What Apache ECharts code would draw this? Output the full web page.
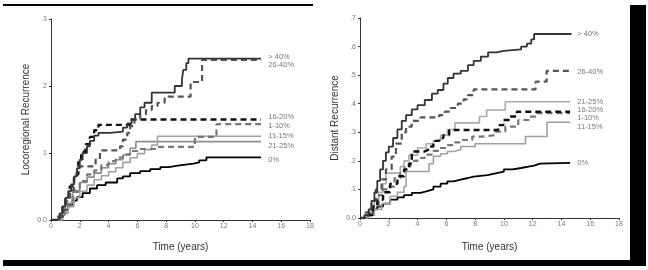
<!DOCTYPE html>
<html><head><meta charset="utf-8">
<script src="https://cdn.jsdelivr.net/npm/echarts@6/dist/echarts.min.js"></script>
<style>html,body{margin:0;padding:0;background:#fff}#c{width:648px;height:270px}</style>
</head><body><div id="c"></div>
<script>
// ---------- DATA ----------
var groupNames = ['> 40%','26-40%','16-20%','1-10%','11-15%','21-25%','0%'];
var xTicks = [0,2,4,6,8,10,12,14,16,18];

// Locoregional recurrence (left panel) [time, value]
var locoGt40 = [[0,0],[0.4,0.02],[0.6,0.1],[0.8,0.2],[1.0,0.33],[1.2,0.43],[1.4,0.53],[1.6,0.65],[1.8,0.77],[2.0,0.9],[2.2,1.0],[2.5,1.1],[2.7,1.18],[3.0,1.26],[3.3,1.3],[4.1,1.32],[5.0,1.38],[5.3,1.44],[5.6,1.5],[5.85,1.58],[6.2,1.68],[6.5,1.75],[7.0,1.9],[8.6,2.0],[9.1,2.1],[9.2,2.24],[9.4,2.34],[9.55,2.41],[14.6,2.41]];
var loco2640 = [[0,0],[0.5,0.05],[0.8,0.15],[1.0,0.28],[1.3,0.45],[1.6,0.62],[1.8,0.8],[2.9,0.8],[3.1,0.9],[3.4,1.04],[4.6,1.04],[4.8,1.1],[5.0,1.2],[5.3,1.3],[5.5,1.4],[5.8,1.5],[6.2,1.58],[6.6,1.64],[7.0,1.7],[7.4,1.75],[7.9,1.84],[9.7,2.06],[10.5,2.39],[14.6,2.39]];
var loco1620 = [[0,0],[0.5,0.05],[0.8,0.2],[1.0,0.35],[1.3,0.5],[1.6,0.68],[1.9,0.88],[2.1,1.02],[2.4,1.13],[2.7,1.24],[3.0,1.34],[3.3,1.42],[5.5,1.5],[14.6,1.5]];
var loco0110 = [[0,0],[0.6,0.05],[1.0,0.22],[1.5,0.42],[2.0,0.58],[2.5,0.68],[3.0,0.74],[3.5,0.82],[4.0,0.88],[4.5,0.93],[5.0,0.98],[5.5,1.03],[6.0,1.06],[7.3,1.09],[10.0,1.24],[11.5,1.43],[14.6,1.43]];
var loco1115 = [[0,0],[0.8,0.02],[0.9,0.1],[1.2,0.2],[1.6,0.33],[2.0,0.43],[2.5,0.52],[3.0,0.6],[3.5,0.66],[4.0,0.72],[4.5,0.78],[5.0,0.86],[5.5,0.93],[6.0,0.99],[6.5,1.05],[7.0,1.12],[7.4,1.25],[14.6,1.25]];
var loco2125 = [[0,0],[0.5,0.02],[0.7,0.1],[1.0,0.25],[1.5,0.44],[2.0,0.56],[2.5,0.64],[3.0,0.7],[3.5,0.78],[4.0,0.84],[4.5,0.9],[5.0,0.97],[5.5,1.07],[5.9,1.17],[14.6,1.17]];
var loco0 = [[0,0],[0.4,0.02],[0.6,0.07],[0.9,0.15],[1.2,0.23],[1.5,0.29],[1.8,0.34],[2.2,0.4],[2.7,0.47],[3.2,0.52],[3.8,0.56],[4.6,0.62],[5.0,0.65],[5.5,0.7],[6.2,0.73],[6.9,0.76],[7.6,0.79],[8.2,0.81],[8.8,0.83],[9.5,0.84],[9.9,0.86],[10.3,0.89],[10.8,0.935],[14.6,0.935]];
var locoLabelY = [2.43, 2.31, 1.54, 1.4, 1.25, 1.11, 0.9];
var locoYTicks = [0,1,2,3];

// Distant recurrence (right panel)
var distGt40 = [[0,0],[0.3,0.01],[0.6,0.03],[0.8,0.06],[1.0,0.09],[1.2,0.13],[1.4,0.17],[1.6,0.2],[1.8,0.23],[2.0,0.25],[2.3,0.28],[2.6,0.31],[2.9,0.34],[3.2,0.36],[3.6,0.38],[4.0,0.395],[4.5,0.413],[5.0,0.435],[5.4,0.448],[5.8,0.47],[6.1,0.49],[6.5,0.505],[7.0,0.515],[7.5,0.535],[7.9,0.55],[8.4,0.565],[8.9,0.58],[9.5,0.585],[10.0,0.59],[11.2,0.6],[11.6,0.61],[11.9,0.625],[12.1,0.644],[14.7,0.644]];
var dist2640 = [[0,0],[0.4,0.02],[0.8,0.06],[1.1,0.1],[1.5,0.135],[1.8,0.17],[2.2,0.215],[2.5,0.26],[2.9,0.3],[3.2,0.32],[3.6,0.34],[4.2,0.352],[5.5,0.36],[5.9,0.372],[6.3,0.385],[6.8,0.4],[7.2,0.415],[7.5,0.43],[7.9,0.45],[12.2,0.477],[12.97,0.515],[14.6,0.515]];
var dist2125 = [[0,0],[0.5,0.01],[0.8,0.03],[1.0,0.06],[1.3,0.09],[1.6,0.12],[1.8,0.157],[2.6,0.157],[2.8,0.18],[3.06,0.2],[3.4,0.22],[4.0,0.245],[4.6,0.26],[5.1,0.27],[5.6,0.29],[6.07,0.31],[6.6,0.333],[7.9,0.333],[8.3,0.355],[8.8,0.378],[10.1,0.407],[14.6,0.407]];
var dist1620 = [[0,0],[0.5,0.01],[0.9,0.04],[1.2,0.064],[1.6,0.09],[2.1,0.12],[2.6,0.146],[3.06,0.17],[3.4,0.19],[3.6,0.233],[4.5,0.24],[4.8,0.25],[5.1,0.27],[5.5,0.28],[5.8,0.29],[6.2,0.308],[9.6,0.325],[9.96,0.343],[10.4,0.355],[10.9,0.372],[14.6,0.372]];
var dist0110 = [[0,0],[0.5,0.01],[0.9,0.04],[1.3,0.08],[1.6,0.1],[2.0,0.11],[2.4,0.14],[2.8,0.16],[3.1,0.18],[3.5,0.2],[4.0,0.21],[4.5,0.222],[5.0,0.235],[5.5,0.245],[6.0,0.255],[6.5,0.265],[7.0,0.273],[7.8,0.285],[8.5,0.29],[9.4,0.302],[10.1,0.32],[11.0,0.343],[11.8,0.355],[12.3,0.367],[14.6,0.367]];
var dist1115 = [[0,0],[0.6,0.01],[1.0,0.03],[1.5,0.05],[2.1,0.076],[2.6,0.09],[3.06,0.11],[3.2,0.163],[4.5,0.163],[4.8,0.19],[5.1,0.216],[5.6,0.225],[6.07,0.233],[6.5,0.24],[7.0,0.25],[8.0,0.26],[11.5,0.285],[13.0,0.335],[14.6,0.335]];
var dist0 = [[0,0],[0.3,0.005],[0.6,0.015],[0.9,0.03],[1.2,0.04],[1.6,0.05],[2.1,0.064],[2.6,0.072],[3.06,0.08],[3.6,0.088],[4.2,0.093],[4.6,0.1],[5.1,0.11],[5.6,0.12],[6.07,0.128],[6.5,0.134],[7.0,0.14],[7.5,0.145],[7.9,0.15],[8.85,0.157],[9.5,0.162],[10.0,0.17],[10.6,0.175],[11.2,0.18],[11.7,0.183],[12.1,0.19],[12.5,0.193],[14.6,0.193]];
var distLabelY = [0.644, 0.512, 0.378, 0.349, 0.32, 0.407, 0.191];
var distYTicks = [0,0.1,0.2,0.3,0.4,0.5,0.6,0.7];
var labelX = 15.1;

// ---------- STYLE ----------
var styles = [
  {color:'#333', width:1.8, type:'solid'},
  {color:'#555', width:2.2, type:[6,4]},
  {color:'#111', width:2.4, type:[6,4]},
  {color:'#777', width:2.2, type:[6,4]},
  {color:'#a0a0a0', width:1.6, type:'solid'},
  {color:'#8c8c8c', width:1.6, type:'solid'},
  {color:'#000', width:1.8, type:'solid'}
];
var locoData = [locoGt40, loco2640, loco1620, loco0110, loco1115, loco2125, loco0];
var distData = [distGt40, dist2640, dist1620, dist0110, dist1115, dist2125, dist0];
var distStyles = styles.map(function(s,i){ return i===5 ? {color:'#aaa', width:1.6, type:'solid'} : s; });

var font = 'Liberation Sans, Arial, sans-serif';
function xAxis(gi){
  return {gridIndex:gi, type:'value', min:0, max:18, interval:2,
    name:'Time (years)', nameLocation:'middle', nameGap: gi===0?22:24,
    nameTextStyle:{fontSize:10, color:'#333', fontFamily:font},
    axisLine:{lineStyle:{color:'#333', width:1}},
    axisTick:{length:2, lineStyle:{color:'#333'}},
    axisLabel:{fontSize:7, color:'#777', margin:3, fontFamily:font},
    splitLine:{show:false}};
}
var chart = echarts.init(document.getElementById('c'), null, {renderer:'canvas'});
var series = [];
groupNames.forEach(function(n,i){
  series.push({type:'line', name:n, xAxisIndex:0, yAxisIndex:0, step:'end', symbol:'none',
    data:locoData[i], lineStyle:styles[i], silent:true, z: 10-i});
  series.push({type:'line', name:n, xAxisIndex:1, yAxisIndex:1, step:'end', symbol:'none',
    data:distData[i], lineStyle:distStyles[i], silent:true, z: 10-i});
});
function labelSeries(ai, ys){
  return {type:'scatter', xAxisIndex:ai, yAxisIndex:ai, symbolSize:0, silent:true,
    data: groupNames.map(function(n,i){ return {value:[labelX, ys[i]], name:n}; }),
    label:{show:true, position:'right', distance:0, formatter:'{b}', fontSize:7.5, color:'#555', fontFamily:font}};
}
series.push(labelSeries(0, locoLabelY));
series.push(labelSeries(1, distLabelY));

chart.setOption({
  animation:false,
  backgroundColor:'#fff',
  grid:[{left:51, top:19, width:259, height:201}, {left:360, top:18, width:259, height:200}],
  xAxis:[xAxis(0), xAxis(1)],
  yAxis:[
    {gridIndex:0, type:'value', min:0, max:3, interval:1,
     name:'Locoregional Recurrence', nameLocation:'middle', nameGap:20,
     nameTextStyle:{fontSize:10, color:'#333', fontFamily:font},
     axisLine:{show:true, lineStyle:{color:'#333'}}, axisTick:{show:true, length:2, lineStyle:{color:'#333'}},
     axisLabel:{fontSize:7, color:'#777', margin:4, fontFamily:font, formatter:function(v){ return v===0?'0.0':String(v); }},
     splitLine:{show:false}},
    {gridIndex:1, type:'value', min:0, max:0.7, interval:0.1,
     name:'Distant Recurrence', nameLocation:'middle', nameGap:20,
     nameTextStyle:{fontSize:10, color:'#333', fontFamily:font},
     axisLine:{show:true, lineStyle:{color:'#333'}}, axisTick:{show:true, length:2, lineStyle:{color:'#333'}},
     axisLabel:{fontSize:7, color:'#777', margin:4, fontFamily:font, formatter:function(v){ return v===0?'0.0':'.'+Math.round(v*10); }},
     splitLine:{show:false}}
  ],
  graphic:[
    {type:'rect', shape:{x:3, y:4, width:310, height:2}, style:{fill:'#000'}},
    {type:'rect', shape:{x:630, y:5, width:16, height:260}, style:{fill:'#000'}},
    {type:'rect', shape:{x:3, y:260, width:643, height:6}, style:{fill:'#000'}}
  ],
  series:series
});
</script></body></html>
